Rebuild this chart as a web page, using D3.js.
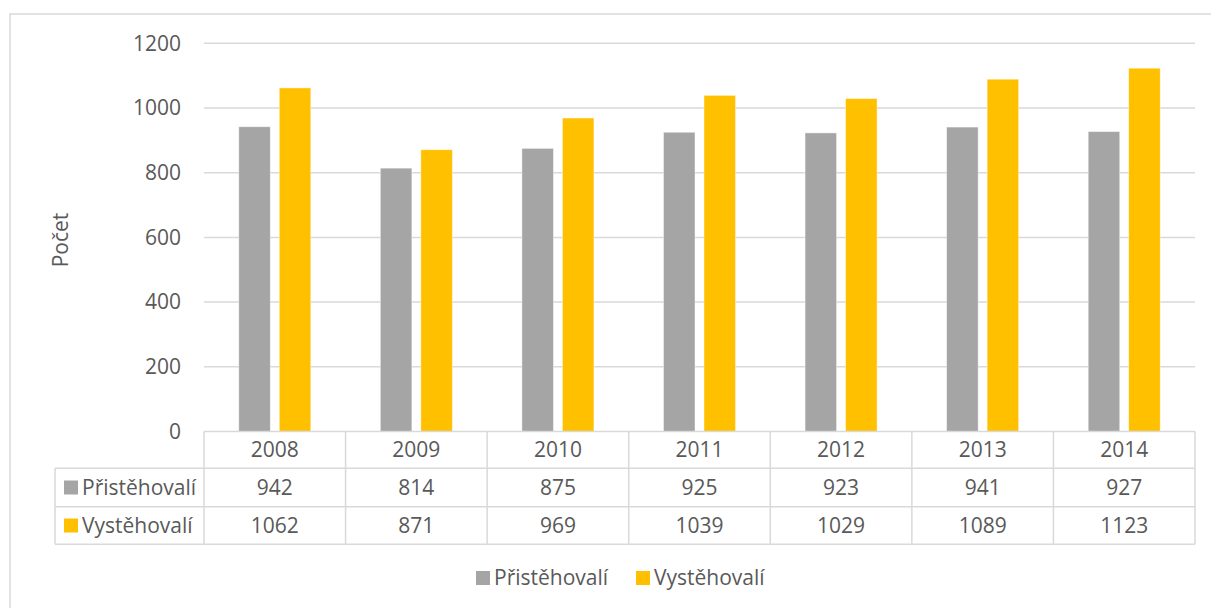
<!DOCTYPE html>
<html>
<head>
<meta charset="utf-8">
<script src="https://cdn.jsdelivr.net/npm/d3@7"></script>
<style>
  body { margin: 0; background: #fff; }
  svg text { font-family: "Open Sans", sans-serif; fill: #595959; font-size: 21px; }
</style>
</head>
<body>
<svg id="chart" width="1211" height="608"></svg>
<script>
// data
const years = ["2008", "2009", "2010", "2011", "2012", "2013", "2014"];
const seriesNames = ["Přistěhovalí", "Vystěhovalí"];
const prist = [942, 814, 875, 925, 923, 941, 927];
const vyst = [1062, 871, 969, 1039, 1029, 1089, 1123];
const yTicks = [0, 200, 400, 600, 800, 1000, 1200];
const colors = ["#a5a5a5", "#ffc000"];

const svg = d3.select("#chart");
const plotLeft = 204, plotRight = 1195, plotTop = 43.3, plotBottom = 431.5;
const gridColor = "#d9d9d9";

// outer frame
svg.append("rect")
    .attr("x", 10).attr("y", 14)
    .attr("width", 1220).attr("height", 620)
    .attr("fill", "none").attr("stroke", gridColor).attr("stroke-width", 1.5);

const x = d3.scaleBand().domain(years).range([plotLeft, plotRight]);
const y = d3.scaleLinear().domain([0, 1200]).range([plotBottom, plotTop]);

// gridlines + tick labels
svg.append("g").selectAll("line")
    .data(yTicks.filter(d => d > 0))
    .join("line")
    .attr("x1", plotLeft).attr("x2", plotRight)
    .attr("y1", d => y(d)).attr("y2", d => y(d))
    .attr("stroke", gridColor).attr("stroke-width", 1.5);

svg.append("g").selectAll("text")
    .data(yTicks)
    .join("text")
    .attr("x", 181).attr("y", d => y(d))
    .attr("dy", "0.35em")
    .attr("text-anchor", "end")
    .text(d => d);

svg.append("text")
    .attr("transform", "translate(68,240) rotate(-90)")
    .attr("text-anchor", "middle")
    .text("Počet");

// bars
const barW = 31.5, gap = 9;
const series = [prist, vyst];
series.forEach((vals, si) => {
    svg.append("g").selectAll("rect")
        .data(vals)
        .join("rect")
        .attr("x", (d, i) => x(years[i]) + x.bandwidth() / 2 + (si === 0 ? -gap / 2 - barW : gap / 2))
        .attr("y", d => y(d))
        .attr("width", barW)
        .attr("height", d => plotBottom - y(d))
        .attr("fill", colors[si])
        .attr("stroke", "#fff").attr("stroke-opacity", 0.5).attr("stroke-width", 0.8);
});

// data table
const rowTops = [plotBottom, 468.3, 506.7, 544.3];
const tbl = svg.append("g");
const tableLeft = 55;
// horizontal lines
tbl.selectAll("line.h")
    .data(rowTops)
    .join("line")
    .attr("x1", (d, i) => i === 0 ? plotLeft : tableLeft)
    .attr("x2", plotRight)
    .attr("y1", d => d).attr("y2", d => d)
    .attr("stroke", gridColor).attr("stroke-width", 1.5);
// vertical lines
const colEdges = years.map(d => x(d)).concat([plotRight]);
tbl.selectAll("line.v")
    .data(colEdges)
    .join("line")
    .attr("x1", d => d).attr("x2", d => d)
    .attr("y1", rowTops[0]).attr("y2", rowTops[3])
    .attr("stroke", gridColor).attr("stroke-width", 1.5);
tbl.append("line")
    .attr("x1", tableLeft).attr("x2", tableLeft)
    .attr("y1", rowTops[1]).attr("y2", rowTops[3])
    .attr("stroke", gridColor).attr("stroke-width", 1.5);

const rowMid = i => (rowTops[i] + rowTops[i + 1]) / 2;
tbl.selectAll("text.yr")
    .data(years)
    .join("text")
    .attr("x", d => x(d) + x.bandwidth() / 2)
    .attr("y", rowMid(0)).attr("dy", "0.35em")
    .attr("text-anchor", "middle")
    .text(d => d);

series.forEach((vals, si) => {
    tbl.append("g").selectAll("text")
        .data(vals)
        .join("text")
        .attr("x", (d, i) => x(years[i]) + x.bandwidth() / 2)
        .attr("y", rowMid(si + 1)).attr("dy", "0.35em")
        .attr("text-anchor", "middle")
        .text(d => d);
    tbl.append("rect")
        .attr("x", 64).attr("y", rowMid(si + 1) - 7)
        .attr("width", 14).attr("height", 14)
        .attr("fill", colors[si]);
    tbl.append("text")
        .attr("x", 82).attr("y", rowMid(si + 1)).attr("dy", "0.35em")
        .text(seriesNames[si]);
});

// legend
const legendX = [476, 636];
const legend = svg.append("g");
seriesNames.forEach((name, i) => {
    legend.append("rect")
        .attr("x", legendX[i]).attr("y", 571)
        .attr("width", 14).attr("height", 14)
        .attr("fill", colors[i]);
    legend.append("text")
        .attr("x", legendX[i] + 18).attr("y", 578).attr("dy", "0.35em")
        .text(name);
});
</script>
</body>
</html>
